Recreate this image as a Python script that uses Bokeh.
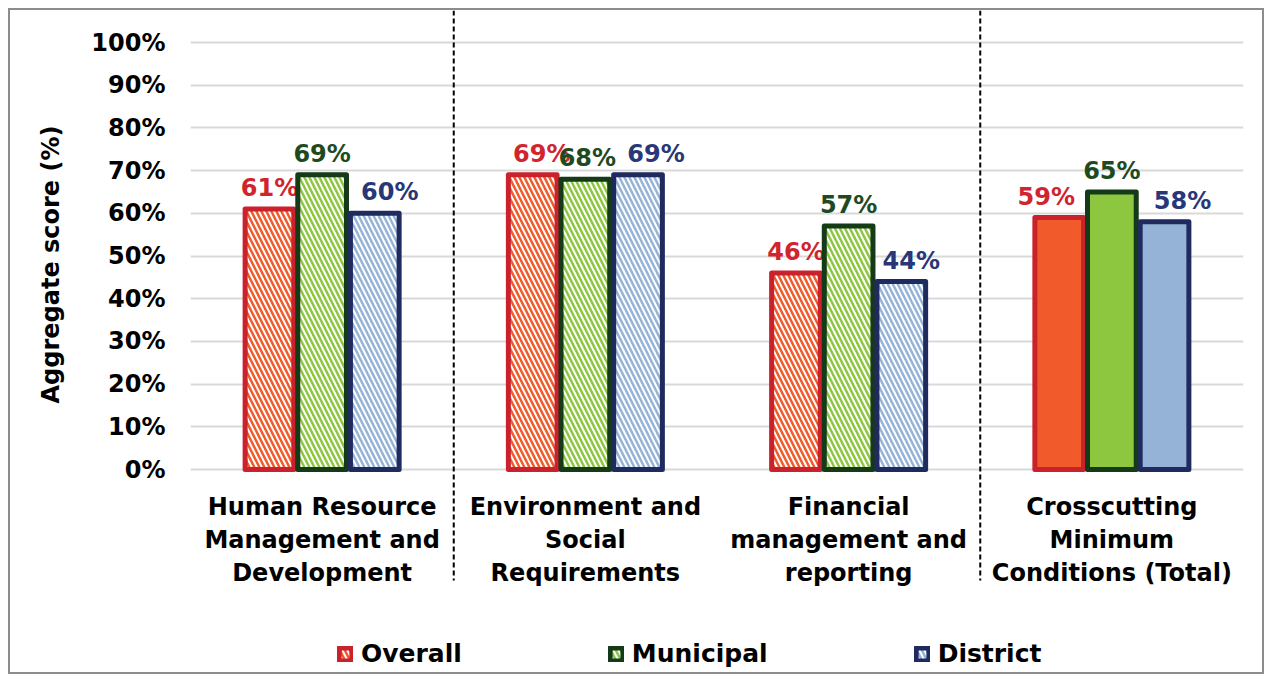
import math
from bokeh.plotting import figure
from bokeh.models import (ColumnDataSource, FactorRange, Range1d, FixedTicker,
                          NumeralTickFormatter, Legend, LegendItem, Title,
                          InlineStyleSheet)
from bokeh.transform import dodge
from bokeh.core.properties import value
from bokeh.embed import file_html
from bokeh.resources import INLINE

# ---------------- data ----------------
categories = [
    "Human Resource Management and Development",
    "Environment and Social Requirements",
    "Financial management and reporting",
    "Crosscutting Minimum Conditions (Total)",
]
category_labels = [
    "Human Resource\nManagement and\nDevelopment",
    "Environment and\nSocial\nRequirements",
    "Financial\nmanagement and\nreporting",
    "Crosscutting\nMinimum\nConditions (Total)",
]
series_names = ["Overall", "Municipal", "District"]
overall = [0.61, 0.69, 0.46, 0.59]
municipal = [0.69, 0.68, 0.57, 0.65]
district = [0.60, 0.69, 0.44, 0.58]
y_ticks = [0.0, 0.1, 0.2, 0.3, 0.4, 0.5, 0.6, 0.7, 0.8, 0.9, 1.0]
y_title = "Aggregate score (%)"

# ---------------- style ----------------
FONT = "DejaVu Sans"
hatches = ["\\", "\\", "\\", " "]
fills = ["#F15A2B", "#8DC63F", "#95B3D7"]
outlines = ["#C9222D", "#143A17", "#1F2A5E"]
label_colors = ["#D0252D", "#1E4A1F", "#283777"]
offsets = [-0.2, 0.0, 0.2]
label_nudges = [[0, 9, 0, -13], [0, 2, 0, 0], [15, 18, 10, 18]]

W, H = 1256, 666
frame_left, frame_right = 180, 23
px_per_unit = 427.0
top_px = 32.0          # space above the 100% line
sep_bottom_px = 111.0  # separators end this far below the 0% line
y_end = 1.0 + top_px / px_per_unit
y_start = y_end - H / px_per_unit
sep_low = -sep_bottom_px / px_per_unit

p = figure(
    width=W, height=H,
    x_range=FactorRange(factors=categories, range_padding=0.0),
    y_range=Range1d(y_start, y_end),
    output_backend="svg", toolbar_location=None,
    x_axis_location=None,
    min_border_left=frame_left, min_border_right=frame_right,
    min_border_top=0, min_border_bottom=0,
)
p.stylesheets = [InlineStyleSheet(
    css=":host { border: 2px solid #8c8c8c; margin: 8px 0 0 8px; }")]
p.outline_line_color = None
p.background_fill_color = "white"
p.border_fill_color = "white"

# y axis
yax = p.yaxis[0]
yax.ticker = FixedTicker(ticks=y_ticks)
yax.formatter = NumeralTickFormatter(format="0%")
yax.axis_line_color = None
yax.major_tick_line_color = None
yax.minor_tick_line_color = None
yax.major_tick_out = 0
yax.major_tick_in = 0
yax.minor_tick_out = 0
yax.minor_tick_in = 0
yax.major_label_standoff = 25
yax.major_label_text_font = FONT
yax.major_label_text_font_style = "bold"
yax.major_label_text_font_size = "24px"
yax.major_label_text_color = "black"

p.xgrid.grid_line_color = None
p.ygrid.ticker = FixedTicker(ticks=y_ticks)
p.ygrid.grid_line_color = "#D9D9D9"
p.ygrid.grid_line_width = 2

# dashed separators between groups (at group boundaries 1 and 3)
sep_src = ColumnDataSource(dict(x=[1.0, 3.0], y0=[y_end, y_end], y1=[sep_low, sep_low]))
p.segment(x0="x", x1="x", y0="y0", y1="y1", source=sep_src,
          line_color="black", line_width=2, line_dash="5 3")

items = []
for i, (name, vals) in enumerate(zip(series_names, [overall, municipal, district])):
    src = ColumnDataSource(dict(
        cat=categories, val=vals, hatch=hatches,
        lab=[f"{round(v * 100)}%" for v in vals],
        nudge=label_nudges[i],
    ))
    xs = dodge("cat", offsets[i], range=p.x_range)
    r = p.vbar(x=xs, top="val", bottom=0, width=0.185, source=src,
               fill_color=fills[i], line_color=outlines[i], line_width=5,
               line_join="round",
               hatch_pattern="hatch", hatch_color="white",
               hatch_scale=10, hatch_weight=2)
    p.text(x=xs, y="val", text="lab", source=src, x_offset="nudge", y_offset=-7,
           text_align="center", text_baseline="bottom",
           text_font=value(FONT), text_font_style="bold",
           text_font_size="24px", text_color=label_colors[i])
    items.append(LegendItem(label=name, renderers=[r]))

# category labels under the bars
cat_src = ColumnDataSource(dict(cat=categories, lab=category_labels,
                                base=[0.0] * len(categories)))
p.text(x="cat", y="base", text="lab", source=cat_src, y_offset=23,
       text_align="center", text_baseline="top", text_line_height=1.18,
       text_font=value(FONT), text_font_style="bold", text_font_size="24px",
       text_color="black")

# y axis title (left panel), shifted up so it is centred on the 0-100% span
ttl = Title(text=y_title, align="left", vertical_align="bottom",
            offset=(H + 10) - 403,
            text_font=FONT, text_font_style="bold",
            text_font_size="24px", text_color="black")
if "standoff" in Title.properties():
    ttl.standoff = 48
p.add_layout(ttl, "left")

legend = Legend(items=items, orientation="horizontal", location=(147, 8),
                label_text_font=FONT, label_text_font_style="bold",
                label_text_font_size="25px", label_text_color="black",
                glyph_width=16, glyph_height=16, label_standoff=8,
                spacing=146, padding=0, margin=0,
                border_line_color=None, background_fill_alpha=0)
p.add_layout(legend, "center")

open("out.html", "w").write(file_html(p, INLINE))
